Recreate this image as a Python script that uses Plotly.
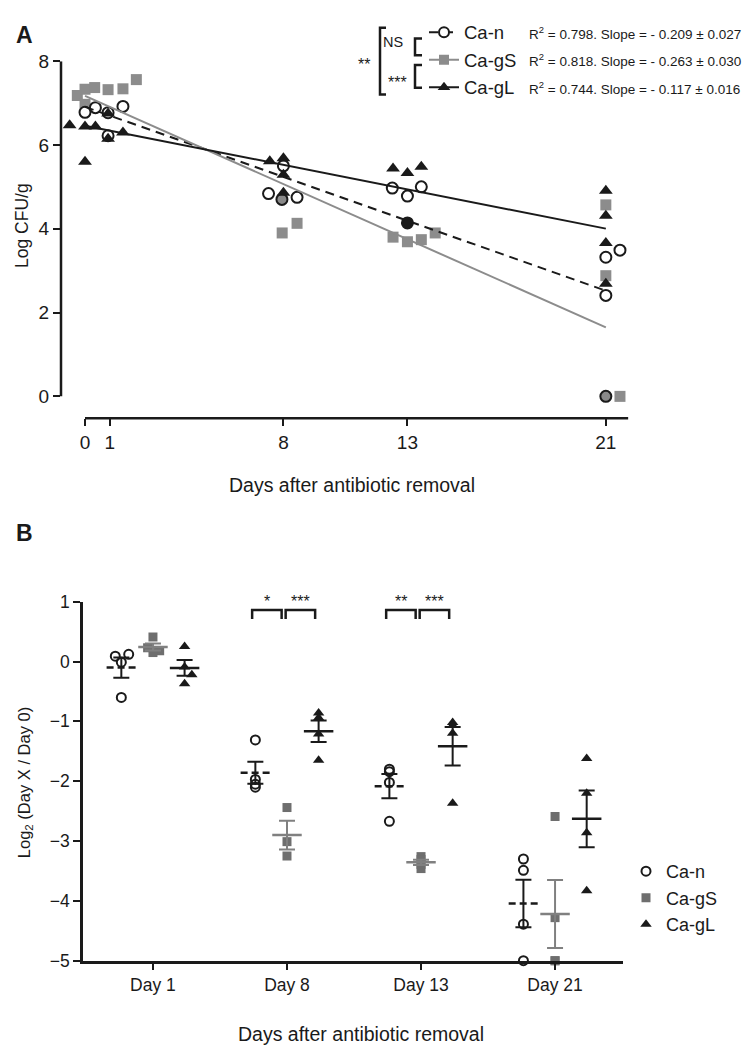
import numpy as np
import plotly.graph_objects as go

W, H = 756, 1052
FONT = "Liberation Sans Narrow, Arial Narrow, Liberation Sans, Arial, sans-serif"
INK = "#1a1a1a"
GRAY_A = "#8c8c8c"
GRAY_B = "#6e6e6e"

# ---------------- Panel A data (Log CFU/g vs day) ----------------
a_groups = ["Ca-n", "Ca-gS", "Ca-gL"]
a_days_ticks = [0, 1, 8, 13, 21]

a_n_day = [0.0, 0.42, 0.93, 1.53, 0.93, 7.4, 8.0, 8.55, 7.94, 12.39, 13.0, 13.56, 13.0, 21.0, 21.57, 21.0, 21.0]
a_n_cfu = [6.78, 6.89, 6.77, 6.92, 6.22, 4.84, 5.5, 4.75, 4.7, 4.97, 4.78, 5.0, 4.14, 3.32, 3.49, 2.41, 0.0]

a_gs_day = [-0.31, 0.0, 0.39, 0.93, 1.53, 2.07, 0.0, 7.95, 8.55, 12.42, 13.0, 13.56, 14.12, 21.0, 21.0, 21.57]
a_gs_cfu = [7.18, 7.33, 7.37, 7.32, 7.34, 7.56, 6.97, 3.9, 4.13, 3.8, 3.69, 3.74, 3.9, 4.57, 2.88, 0.0]

a_gl_day = [-0.62, 0.0, 0.42, 0.93, 0.93, 1.53, 0.0, 7.45, 8.0, 8.0, 8.0, 12.42, 13.0, 13.56, 21.0, 21.0, 21.0, 21.0]
a_gl_cfu = [6.47, 6.44, 6.44, 6.75, 6.15, 6.3, 5.6, 5.61, 5.68, 5.29, 4.86, 5.44, 5.33, 5.48, 4.91, 4.31, 3.66, 2.69]

a_intercept = [6.91, 7.17, 6.46]
a_slope = [-0.209, -0.263, -0.117]
a_slope_se = [0.027, 0.030, 0.016]
a_r2 = [0.798, 0.818, 0.744]
a_fit_days = [0, 21]

# ---------------- Panel B data (Log2 Day X / Day 0) ----------------
b_days = ["Day 1", "Day 8", "Day 13", "Day 21"]
b_n = [[0.09, 0.12, -0.01, -0.6], [-1.31, -1.97, -2.05, -2.1],
       [-1.8, -1.84, -2.02, -2.67], [-3.3, -3.49, -4.39, -5.0]]
b_gs = [[0.41, 0.23, 0.18, 0.15], [-2.44, -3.01, -3.25],
        [-3.26, -3.31, -3.39, -3.46], [-2.59, -4.28, -5.0, -5.0]]
b_gl = [[0.25, -0.09, -0.22, -0.37], [-0.86, -0.94, -1.21, -1.65],
        [-1.02, -1.07, -1.2, -2.37], [-1.62, -2.2, -2.86, -3.83]]
b_sig_day8 = ["*", "***"]
b_sig_day13 = ["**", "***"]

# ---------------- layout helpers ----------------
def PX(px):
    return px / W

def PY(py):
    return 1 - py / H

fig = go.Figure()

# ---- Panel A traces ----
n_fill = ["white"] * len(a_n_day)
n_fill[8] = "#8a8a8a"
n_fill[12] = INK
n_fill[16] = "#8a8a8a"

fig.add_trace(go.Scatter(x=a_gs_day, y=a_gs_cfu, mode="markers", showlegend=False,
                         marker=dict(symbol="square", size=11, color=GRAY_A),
                         xaxis="x", yaxis="y", cliponaxis=False))
fig.add_trace(go.Scatter(x=a_n_day, y=a_n_cfu, mode="markers", showlegend=False,
                         marker=dict(symbol="circle", size=11, color=n_fill,
                                     line=dict(color=INK, width=2)),
                         xaxis="x", yaxis="y", cliponaxis=False))
fig.add_trace(go.Scatter(x=a_gl_day, y=a_gl_cfu, mode="markers", showlegend=False,
                         marker=dict(symbol="triangle-up", size=12, color=INK),
                         xaxis="x", yaxis="y", cliponaxis=False))

line_styles = [dict(color=INK, width=2, dash="9px,6px"),
               dict(color=GRAY_A, width=2),
               dict(color=INK, width=2)]
for i in range(3):
    xs = np.array(a_fit_days, dtype=float)
    ys = a_intercept[i] + a_slope[i] * xs
    fig.add_trace(go.Scatter(x=xs, y=ys, mode="lines", showlegend=False,
                             line=line_styles[i], xaxis="x", yaxis="y"))

# legend keys panel A (one legend per row)
a_markers = [dict(symbol="circle", size=10, color="white", line=dict(color=INK, width=2)),
             dict(symbol="square", size=10, color=GRAY_A),
             dict(symbol="triangle-up", size=11, color=INK)]
a_leg_names = ["legend", "legend2", "legend3"]
for i in range(3):
    fig.add_trace(go.Scatter(x=[None], y=[None], mode="lines+markers", name=a_groups[i],
                             line=line_styles[i], marker=a_markers[i],
                             legend=a_leg_names[i], xaxis="x", yaxis="y"))

# ---- Panel B traces ----
b_offsets = [-0.236, 0.0, 0.236]
b_jitter = [[-0.045, 0.055, 0.0, 0.0], [0.0, -0.04, 0.05, 0.0], [0.0, 0.0, 0.054, 0.0]]
b_sets = [b_n, b_gs, b_gl]
b_marker = [dict(symbol="circle-open", size=9, color=INK, line=dict(width=2)),
            dict(symbol="square", size=9, color=GRAY_B),
            dict(symbol="triangle-up", size=10, color=INK)]
b_mean_style = [dict(color=INK, width=2.5, dash="7px,4px"),
                dict(color="#808080", width=2.5),
                dict(color=INK, width=2.5)]
b_err_color = [INK, "#808080", INK]
b_leg_names = ["legend4", "legend5", "legend6"]

for g in range(3):
    xs, ys = [], []
    mx, my, ex, ey, es = [], [], [], [], []
    for d in range(4):
        vals = b_sets[g][d]
        for k, v in enumerate(vals):
            j = b_jitter[g][k] if d == 0 else 0.0
            xs.append(d + b_offsets[g] + j)
            ys.append(v)
        m = float(np.mean(vals))
        s = float(np.std(vals, ddof=1) / np.sqrt(len(vals)))
        c = d + b_offsets[g]
        mx += [c - 0.11, c + 0.11, None]
        my += [m, m, None]
        ex.append(c)
        ey.append(m)
        es.append(s)
    fig.add_trace(go.Scatter(x=xs, y=ys, mode="markers", name=a_groups[g],
                             marker=b_marker[g], legend=b_leg_names[g],
                             xaxis="x2", yaxis="y2", cliponaxis=False))
    fig.add_trace(go.Scatter(x=ex, y=ey, mode="markers", showlegend=False,
                             marker=dict(size=1, opacity=0),
                             error_y=dict(type="data", array=es, color=b_err_color[g],
                                          thickness=2, width=8),
                             xaxis="x2", yaxis="y2", cliponaxis=False))
    fig.add_trace(go.Scatter(x=mx, y=my, mode="lines", showlegend=False,
                             line=b_mean_style[g], xaxis="x2", yaxis="y2"))

# ---------------- axes ----------------
tickfont_a = dict(family=FONT, size=19, color=INK)
tickfont_b = dict(family=FONT, size=17.5, color=INK)
fig.update_layout(
    width=W, height=H,
    margin=dict(l=0, r=0, t=0, b=0),
    paper_bgcolor="white", plot_bgcolor="white",
    font=dict(family=FONT, color=INK),
    xaxis=dict(domain=[PX(53), PX(640)], range=[-0.968, 22.7], tickvals=a_days_ticks,
               ticks="outside", ticklen=7, tickwidth=2, tickcolor=INK, showline=False,
               showgrid=False, zeroline=False, tickfont=tickfont_a, anchor="y"),
    yaxis=dict(domain=[PY(408), PY(44)], range=[-0.522, 8], tickvals=[0, 2, 4, 6, 8],
               ticks="outside", ticklen=7, tickwidth=2, tickcolor=INK, showline=False,
               showgrid=False, zeroline=False, tickfont=tickfont_a, anchor="x"),
    xaxis2=dict(domain=[PX(75), PX(615)], range=[-0.522, 3.507], tickvals=[0, 1, 2, 3],
                ticktext=b_days, ticks="outside", ticklen=7, tickwidth=2, tickcolor=INK,
                showline=True, linewidth=2.5, linecolor=INK, showgrid=False, zeroline=False,
                tickfont=tickfont_b, anchor="y2"),
    yaxis2=dict(domain=[PY(961), PY(595)], range=[-5, 1], dtick=1,
                ticks="outside", ticklen=7, tickwidth=2, tickcolor=INK,
                showline=True, linewidth=2.5, linecolor=INK, showgrid=False, zeroline=False,
                tickfont=tickfont_b, anchor="x2"),
)

# ---------------- legends ----------------
leg_common = dict(xanchor="left", yanchor="middle", bgcolor="rgba(0,0,0,0)",
                  borderwidth=0, itemwidth=30)
a_rows = [15, 43, 71]
for i, nm in enumerate(a_leg_names):
    fig.update_layout({nm: dict(x=PX(416), y=PY(a_rows[i]),
                                font=dict(family=FONT, size=18.5, color=INK), **leg_common)})
b_rows = [870, 897, 924]
for i, nm in enumerate(b_leg_names):
    fig.update_layout({nm: dict(x=PX(618), y=PY(b_rows[i]),
                                font=dict(family=FONT, size=18, color=INK), **leg_common)})

# ---------------- shapes ----------------
shapes = []
# panel A axis lines (offset, Prism style)
shapes.append(dict(type="line", xref="paper", yref="y", x0=PX(53), x1=PX(53), y0=0, y1=8,
                   line=dict(color=INK, width=2.5)))
shapes.append(dict(type="line", xref="x", yref="paper", x0=0, x1=21.9, y0=PY(408), y1=PY(408),
                   line=dict(color=INK, width=2.5)))

def bracket_path(pts):
    return "M " + " L ".join(f"{PX(x)},{PY(y)}" for x, y in pts)

for pts in ([(378, 10), (372, 10), (372, 78), (378, 78)],
            [(414, 21), (407, 21), (407, 38), (414, 38)],
            [(414, 48), (407, 48), (407, 71), (414, 71)]):
    shapes.append(dict(type="path", xref="paper", yref="paper", path=bracket_path(pts),
                       line=dict(color=INK, width=2.5)))

# panel B significance brackets
for day, labels in ((1, b_sig_day8), (2, b_sig_day13)):
    for (x0, x1) in ((day - 0.26, day - 0.04), (day - 0.01, day + 0.21)):
        shapes.append(dict(type="path", xref="x2", yref="y2",
                           path=f"M {x0},0.71 L {x0},0.86 L {x1},0.86 L {x1},0.71",
                           line=dict(color=INK, width=2.5)))
fig.update_layout(shapes=shapes)

# ---------------- annotations ----------------
ann = []
def txt(px, py, s, size, xanchor="center", bold=False, angle=0, yanchor="middle"):
    ann.append(dict(x=PX(px), y=PY(py), xref="paper", yref="paper", text=s, showarrow=False,
                    xanchor=xanchor, yanchor=yanchor, textangle=angle,
                    font=dict(family=FONT if not bold else "Liberation Sans, Arial, sans-serif",
                              size=size, color=INK)))

txt(16, 17, "<b>A</b>", 23)
txt(16, 525, "<b>B</b>", 23)
txt(14, 212, "Log CFU/g", 17.5, angle=-90)
txt(344, 476, "Days after antibiotic removal", 19.5)
txt(17, 780, "Log<sub>2</sub> (Day X / Day 0)", 16.5, angle=-90)
txt(353, 1036, "Days after antibiotic removal", 19.5)
txt(356, 47, "**", 16)
txt(385, 24, "NS", 14.5, xanchor="center")
txt(389, 66, "***", 16)
for i in range(3):
    s = (f"R<sup>2</sup> = {a_r2[i]:.3f}. Slope = - {abs(a_slope[i]):.3f} "
         f"\u00b1 {a_slope_se[i]:.3f}")
    txt(519, a_rows[i], s, 13.5, xanchor="left")

for day, labels in ((1, b_sig_day8), (2, b_sig_day13)):
    for (xc, lab) in zip((day - 0.15, day + 0.1), labels):
        ann.append(dict(x=xc, y=1.0, xref="x2", yref="y2", text=lab, showarrow=False,
                        xanchor="center", yanchor="middle",
                        font=dict(family=FONT, size=16, color=INK)))
fig.update_layout(annotations=ann)

fig.write_html("out.html")
